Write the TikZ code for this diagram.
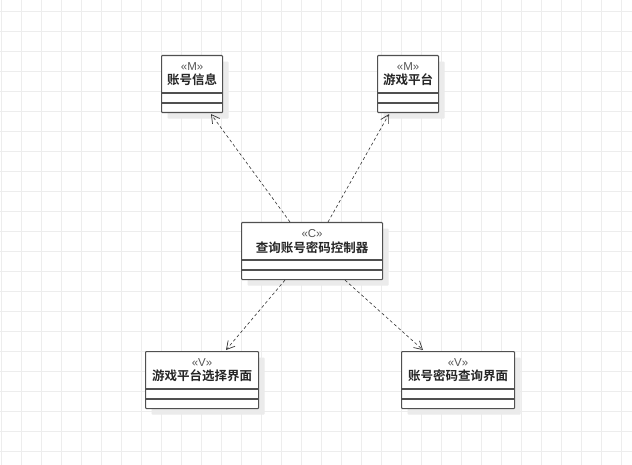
\documentclass[tikz,border=0pt]{standalone}
\usepackage{fontspec}
\newfontfamily\cjk{Noto Sans CJK SC}[BoldFont={Noto Sans CJK SC Bold}]
\newfontfamily\latinsans{Liberation Sans}
\usetikzlibrary{arrows.meta,shadows}
\definecolor{gridline}{HTML}{EDEDED}
\definecolor{boxline}{HTML}{505050}
\definecolor{stereo}{HTML}{555555}
\tikzset{
  cls/.style={draw=boxline, line width=1.1pt, fill=white, rectangle, rounded corners=0.8pt,
    anchor=north west, minimum height=57pt, inner sep=0pt,
    drop shadow={shadow xshift=6pt, shadow yshift=-6pt, fill=black!8, opacity=1}},
  sep/.style={draw=boxline, line width=1.1pt},
  stlabel/.style={font=\latinsans\fontsize{11.5pt}{13pt}\selectfont, text=stereo, inner sep=0pt},
  namelabel/.style={font=\cjk\bfseries\fontsize{12.5pt}{14pt}\selectfont, text=black!85, inner sep=0pt},
  dep/.style={draw=black!80, line width=0.6pt, dash pattern=on 3pt off 2.5pt,
    -{Straight Barb[length=8pt,width=9pt,line width=0.7pt]}}
}
\newcommand{\classbox}[5]{% name, x, y, width, stereotype
  \node[cls, minimum width=#4pt] (#1) at (#2,-#3) {};
  \draw[sep] ([yshift=-38pt]#1.north west) -- ([yshift=-38pt]#1.north east);
  \draw[sep] ([yshift=-48pt]#1.north west) -- ([yshift=-48pt]#1.north east);
  \node[stlabel] (#1-st) at ([yshift=-11.5pt]#1.north) {#5};
}
\begin{document}
\begin{tikzpicture}[x=1pt,y=1pt]
  \useasboundingbox (0,0) rectangle (632,-465);
  \fill[white] (0,0) rectangle (632,-465);
  % background grid
  \begin{scope}
    \clip (0,0) rectangle (632,-465);
    \foreach \gx in {1,21,...,641} \draw[gridline, line width=0.9pt] (\gx,0) -- (\gx,-465);
    \foreach \gy in {11,31,...,471} \draw[gridline, line width=0.9pt] (0,-\gy) -- (632,-\gy);
  \end{scope}

  % classes
  \classbox{acct}{161}{55}{61}{«M»}
  \node[namelabel] (acct-name) at ([yshift=-25pt]acct.north) {账号信息};
  \classbox{plat}{377}{55}{61}{«M»}
  \node[namelabel] (plat-name) at ([yshift=-25pt]plat.north) {游戏平台};
  \classbox{ctrl}{241}{222}{141}{«C»}
  \node[namelabel] (ctrl-name) at ([yshift=-26pt]ctrl.north) {查询账号密码控制器};
  \classbox{pview}{145}{351}{113}{«V»}
  \node[namelabel] (pview-name) at ([yshift=-25pt]pview.north) {游戏平台选择界面};
  \classbox{aview}{401}{351}{113}{«V»}
  \node[namelabel] (aview-name) at ([yshift=-25pt]aview.north) {账号密码查询界面};

  % dependencies
  \draw[dep] ([xshift=49pt]ctrl.north west) -- ([xshift=50pt,yshift=-1pt]acct.south west);
  \draw[dep] ([xshift=87pt]ctrl.north west) -- ([xshift=12pt,yshift=-1pt]plat.south west);
  \draw[dep] ([xshift=44pt]ctrl.south west) -- ([xshift=81pt,yshift=1pt]pview.north west);
  \draw[dep] ([xshift=104pt]ctrl.south west) -- ([xshift=22pt,yshift=1pt]aview.north west);
\end{tikzpicture}
\end{document}
